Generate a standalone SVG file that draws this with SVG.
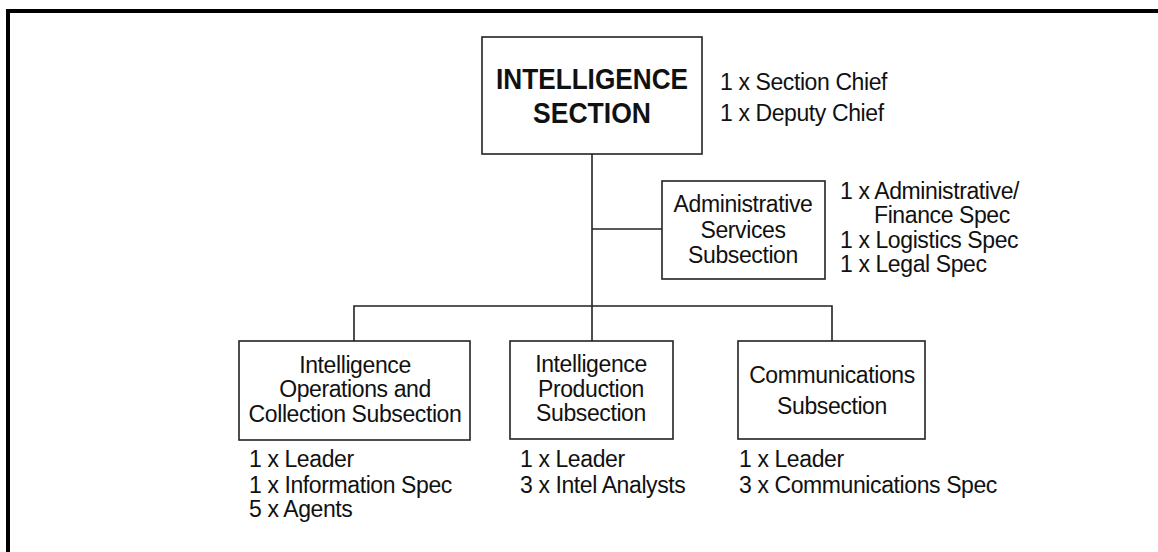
<svg xmlns="http://www.w3.org/2000/svg" width="1158" height="552" viewBox="0 0 1158 552">
<style>
.box{fill:#fff;stroke:#222;stroke-width:1.6}
.con{fill:none;stroke:#222;stroke-width:1.6}
.t{font-family:"Liberation Sans",Arial,sans-serif;font-size:23px;letter-spacing:-0.4px;fill:#111}
.c{text-anchor:middle}
.b{font-weight:bold;font-size:29px;letter-spacing:0}
</style>
<rect x="0" y="0" width="1158" height="552" fill="#fff"/>
<path d="M8 552 V11 H1158" fill="none" stroke="#000" stroke-width="4"/>
<g id="connectors">
<path class="con" d="M592 154 V341"/>
<path class="con" d="M592 229 H662"/>
<path class="con" d="M354 341 V306 H832 V341"/>
</g>
<g id="section">
<rect class="box" x="482" y="37" width="220" height="117"/>
<text class="t c b" x="592" y="89" textLength="192" lengthAdjust="spacingAndGlyphs">INTELLIGENCE</text>
<text class="t c b" x="592" y="123" textLength="118" lengthAdjust="spacingAndGlyphs">SECTION</text>
<text class="t" x="720" y="90">1 x Section Chief</text>
<text class="t" x="720" y="121">1 x Deputy Chief</text>
</g>
<g id="admin">
<rect class="box" x="662" y="181" width="163" height="98"/>
<text class="t c" x="743" y="212">Administrative</text>
<text class="t c" x="743" y="238">Services</text>
<text class="t c" x="743" y="263">Subsection</text>
<text class="t" x="840" y="199">1 x Administrative/</text>
<text class="t" x="874" y="223">Finance Spec</text>
<text class="t" x="840" y="248">1 x Logistics Spec</text>
<text class="t" x="840" y="272">1 x Legal Spec</text>
</g>
<g id="ops">
<rect class="box" x="239" y="341" width="231" height="99"/>
<text class="t c" x="355" y="373">Intelligence</text>
<text class="t c" x="355" y="397">Operations and</text>
<text class="t c" x="355" y="422">Collection Subsection</text>
<text class="t" x="249" y="467">1 x Leader</text>
<text class="t" x="249" y="493">1 x Information Spec</text>
<text class="t" x="249" y="517">5 x Agents</text>
</g>
<g id="production">
<rect class="box" x="510" y="341" width="163" height="98"/>
<text class="t c" x="591" y="372">Intelligence</text>
<text class="t c" x="591" y="397">Production</text>
<text class="t c" x="591" y="421">Subsection</text>
<text class="t" x="520" y="467">1 x Leader</text>
<text class="t" x="520" y="493">3 x Intel Analysts</text>
</g>
<g id="comms">
<rect class="box" x="738" y="341" width="187" height="98"/>
<text class="t c" x="832" y="383">Communications</text>
<text class="t c" x="832" y="414">Subsection</text>
<text class="t" x="739" y="467">1 x Leader</text>
<text class="t" x="739" y="493">3 x Communications Spec</text>
</g>
</svg>
